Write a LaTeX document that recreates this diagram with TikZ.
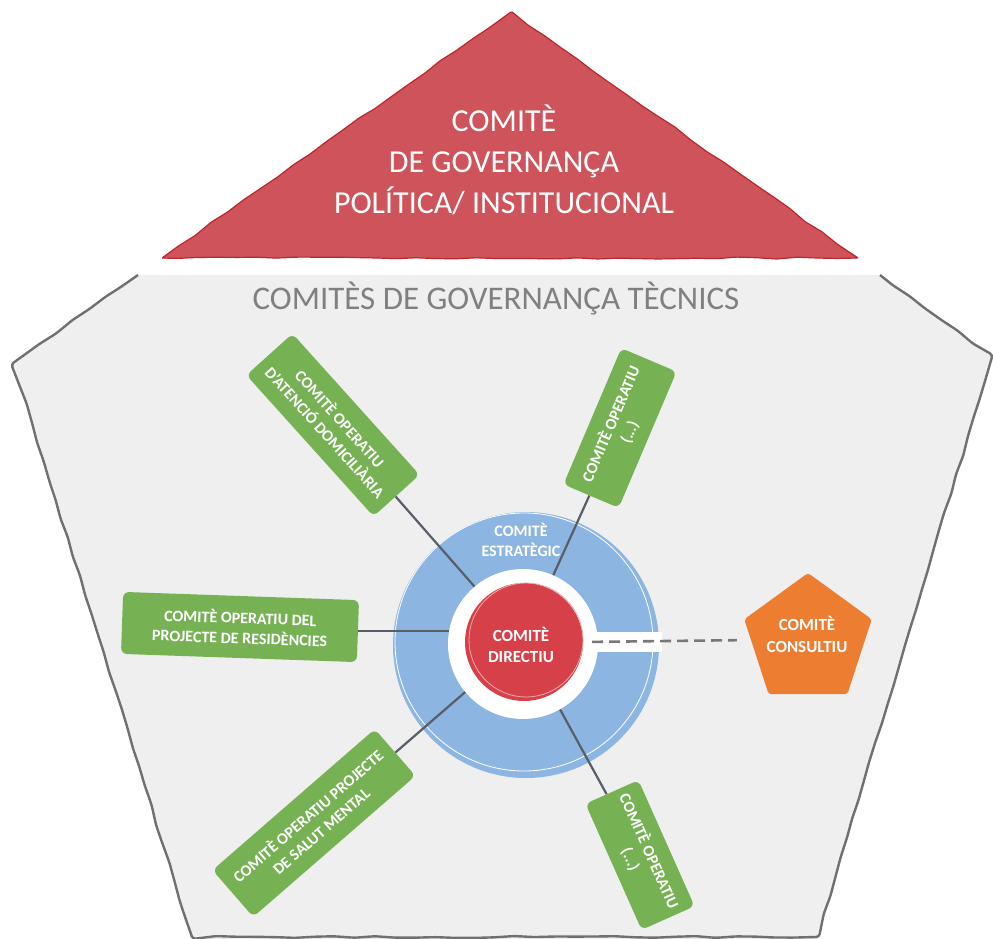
\documentclass[tikz,border=0pt]{standalone}
\usepackage{fontspec}
\setmainfont{Carlito}
\usetikzlibrary{shapes.geometric,decorations.pathmorphing}

\definecolor{bgGrey}{RGB}{239,239,239}
\definecolor{edgeGrey}{RGB}{112,112,112}
\definecolor{peakRed}{RGB}{206,83,90}
\definecolor{peakEdge}{RGB}{188,38,46}
\definecolor{ringBlue}{RGB}{141,181,225}
\definecolor{coreRed}{RGB}{214,64,72}
\definecolor{opGreen}{RGB}{118,178,84}
\definecolor{advOrange}{RGB}{237,125,49}
\definecolor{spokeGrey}{RGB}{88,94,104}
\definecolor{dashGrey}{RGB}{120,120,120}
\definecolor{titleGrey}{RGB}{128,128,128}

\begin{document}
\begin{tikzpicture}[x=1pt,y=-1pt,
  wobble/.style={decorate, decoration={random steps, segment length=20pt, amplitude=1pt}},
  opbox/.style={fill=opGreen, rounded corners=6pt, text=white, align=center, inner sep=0pt,
    font=\bfseries\fontsize{16}{20}\selectfont},
  spoke/.style={draw=spokeGrey, line width=2.2pt},
  whitelabel/.style={text=white, align=center, inner sep=0pt},
]
\pgfmathsetseed{5}
\useasboundingbox (0,0) rectangle (993,939);

% technical governance area
\fill[bgGrey] (138,275) -- (13,363) -- (192,939) -- (817,939) -- (992,357) -- (880,275) -- cycle;
\draw[edgeGrey, line width=2.4pt, wobble, rounded corners=3pt]
  (138,275) -- (13,363) -- (192,937) -- (817,937) -- (992,357) -- (880,275);

% political / institutional peak
\filldraw[fill=peakRed, draw=peakEdge, line width=1.2pt, rounded corners=1pt, wobble]
  (162,258) -- (511,12) -- (858,258) -- cycle;
\node[whitelabel, font=\fontsize{32}{41}\selectfont] (pol) at (504,160)
  {COMITÈ\\DE GOVERNANÇA\\POLÍTICA/ INSTITUCIONAL};

\node[text=titleGrey, inner sep=0pt, font=\fontsize{33}{36}\selectfont] (tec) at (496,298)
  {COMITÈS DE GOVERNANÇA TÈCNICS};

% strategic ring
\node[circle, fill=ringBlue, minimum size=266pt, inner sep=0pt] (estr) at (526,645) {};
\draw[white, line width=0.8pt] (524,642) circle (129pt);
\coordinate (hub) at (523,642);

% operative committees
\node[opbox, minimum width=190pt, minimum height=62pt, rotate=-48] (opA) at (333,425)
  {COMITÈ OPERATIU\\D'ATENCIÓ DOMICILIÀRIA};
\node[opbox, minimum width=148pt, minimum height=60pt, rotate=67] (opB) at (620,428)
  {COMITÈ OPERATIU\\(...)};
\node[opbox, minimum width=236pt, minimum height=62pt, rotate=-2] (opC) at (240,627)
  {COMITÈ OPERATIU DEL\\PROJECTE DE RESIDÈNCIES};
\node[opbox, minimum width=215pt, minimum height=62pt, rotate=41] (opD) at (314,823)
  {COMITÈ OPERATIU PROJECTE\\DE SALUT MENTAL};
\node[opbox, minimum width=138pt, minimum height=58pt, rotate=-66] (opE) at (640,855)
  {COMITÈ OPERATIU\\(...)};

% spokes from the hub
\draw[spoke] (hub) -- (opA);
\draw[spoke] (hub) -- (opB);
\draw[spoke] (opC.east) -- (opC.east -| hub);
\draw[spoke] (hub) -- (opD);
\draw[spoke] (hub) -- (opE);

% white gap and directing core
\node[circle, fill=white, minimum size=150pt, inner sep=0pt] (gap) at (523,644) {};
\fill[white] (570,632) rectangle (662,652);
\node[circle, fill=coreRed, minimum size=118pt, inner sep=0pt] (dir) at (524,642) {};
\draw[white!55!coreRed, line width=0.8pt] (526,640) circle (57pt);
\node[whitelabel, font=\bfseries\fontsize{17}{21}\selectfont] (dirT) at (521,645) {COMITÈ\\DIRECTIU};

\node[whitelabel, font=\bfseries\fontsize{16}{20}\selectfont] (estrT) at (521,540) {COMITÈ\\ESTRATÈGIC};

% advisory committee
\node[regular polygon, regular polygon sides=5, minimum size=134pt, inner sep=0pt,
  fill=advOrange, rounded corners=3pt] (cons) at (808,640) {};
\node[whitelabel, font=\bfseries\fontsize{17}{22}\selectfont] (consT) at (807,634) {COMITÈ\\CONSULTIU};

\draw[dashGrey, line width=2.6pt, dash pattern=on 11pt off 6pt, shorten <=9pt, shorten >=14pt]
  (dir.east) -- (cons.west);
\end{tikzpicture}
\end{document}
